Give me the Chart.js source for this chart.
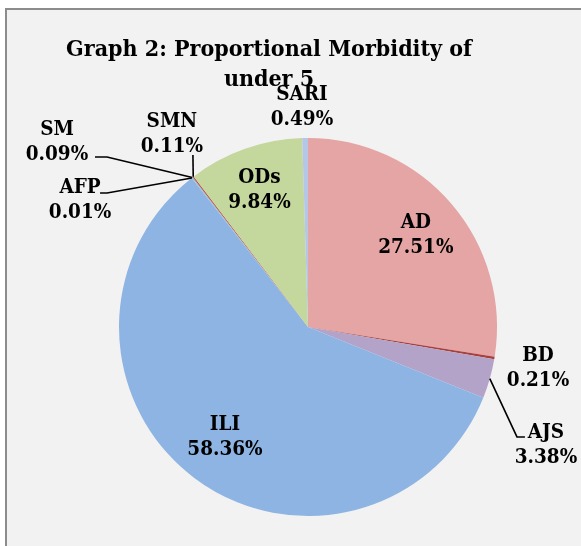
<!DOCTYPE html>
<html>
<head>
<meta charset="utf-8">
<script src="https://cdn.jsdelivr.net/npm/chart.js@4"></script>
<style>
  body { margin: 0; background: #fff; }
  canvas { display: block; }
</style>
</head>
<body>
<canvas id="pieChart" width="581" height="546"></canvas>
<script>
// data
const categories = ["AD", "BD", "AJS", "ILI", "AFP", "SM", "SMN", "ODs", "SARI"];
const shares = [27.51, 0.21, 3.38, 58.36, 0.01, 0.09, 0.11, 9.84, 0.49];
const titleLines = ["Graph 2: Proportional Morbidity of", "under 5"];

const colors = ["#E5A5A4", "#A8403E", "#B3A3C8", "#8EB4E3", "#F6A86E", "#8FC6D8", "#C0504D", "#C4D79C", "#B4C7E6"];

// where each label sits, in units of the pie radius from its centre
// (inside labels just use a radius along the slice's middle)
const placement = {
  AD: { r: 0.75 },
  ILI: { r: 0.73 },
  ODs: { r: 0.77 },
  SARI: { dx: -0.032, dy: -1.164 },
  SMN: { dx: -0.72, dy: -1.021, leader: [21, 21, 21, 21] },
  SM: { dx: -1.328, dy: -0.979, leader: [50, 15, 38, 15] },
  AFP: { dx: -1.206, dy: -0.672, leader: [27, -7, 20, -7] },
  BD: { dx: 1.217, dy: 0.217 },
  AJS: { dx: 1.259, dy: 0.624, leader: [-29, -8, -21, -8] },
};

const serif = "'DejaVu Serif Condensed', 'DejaVu Serif', serif";
const labelFont = "bold 20.5px " + serif;

const backdrop = {
  id: "backdrop",
  beforeDraw(chart) {
    const c = chart.ctx;
    c.save();
    c.fillStyle = "#fff";
    c.fillRect(0, 0, chart.width, chart.height);
    c.fillStyle = "#F2F2F2";
    c.fillRect(6, 9, chart.width, chart.height);
    c.strokeStyle = "#8C8C8C";
    c.lineWidth = 2;
    c.strokeRect(6, 9, chart.width + 10, chart.height + 10);
    c.restore();
  },
};

const sliceLabels = {
  id: "sliceLabels",
  afterDraw(chart) {
    const c = chart.ctx;
    const arcs = chart.getDatasetMeta(0).data;
    c.save();

    // title
    c.fillStyle = "#000";
    c.textAlign = "center";
    c.textBaseline = "alphabetic";
    c.font = "bold 23px " + serif;
    c.fillText(titleLines[0], 269, 56);
    c.fillText(titleLines[1], 269, 86);

    c.font = labelFont;
    c.textBaseline = "middle";
    c.strokeStyle = "#000";
    c.lineWidth = 1.6;

    arcs.forEach((arc, i) => {
      const name = categories[i];
      const p = placement[name];
      const { x, y, startAngle, endAngle, outerRadius } = arc.getProps(
        ["x", "y", "startAngle", "endAngle", "outerRadius"], true);
      const mid = (startAngle + endAngle) / 2;
      let lx, ly;
      if (p.r !== undefined) {
        lx = x + Math.cos(mid) * outerRadius * p.r;
        ly = y + Math.sin(mid) * outerRadius * p.r;
      } else {
        lx = x + p.dx * outerRadius;
        ly = y + p.dy * outerRadius;
      }

      if (p.leader) {
        const ex = x + Math.cos(mid) * outerRadius;
        const ey = y + Math.sin(mid) * outerRadius;
        c.beginPath();
        c.moveTo(ex, ey);
        c.lineTo(lx + p.leader[0], ly + p.leader[1]);
        c.lineTo(lx + p.leader[2], ly + p.leader[3]);
        c.stroke();
      }

      c.fillText(name, lx, ly - 12.5);
      c.fillText(shares[i].toFixed(2) + "%", lx, ly + 12.5);
    });
    c.restore();
  },
};

const ctx = document.getElementById("pieChart").getContext("2d");

const pie = new Chart(ctx, {
  type: "pie",
  data: {
    labels: categories,
    datasets: [
      {
        data: shares,
        backgroundColor: colors,
        borderWidth: 0,
      },
    ],
  },
  options: {
    responsive: false,
    animation: false,
    rotation: 0,
    layout: { padding: { left: 119, top: 138, right: 84, bottom: 30 } },
    plugins: {
      legend: { display: false },
      tooltip: { enabled: false },
      title: { display: false },
    },
  },
  plugins: [backdrop, sliceLabels],
});
</script>
</body>
</html>
